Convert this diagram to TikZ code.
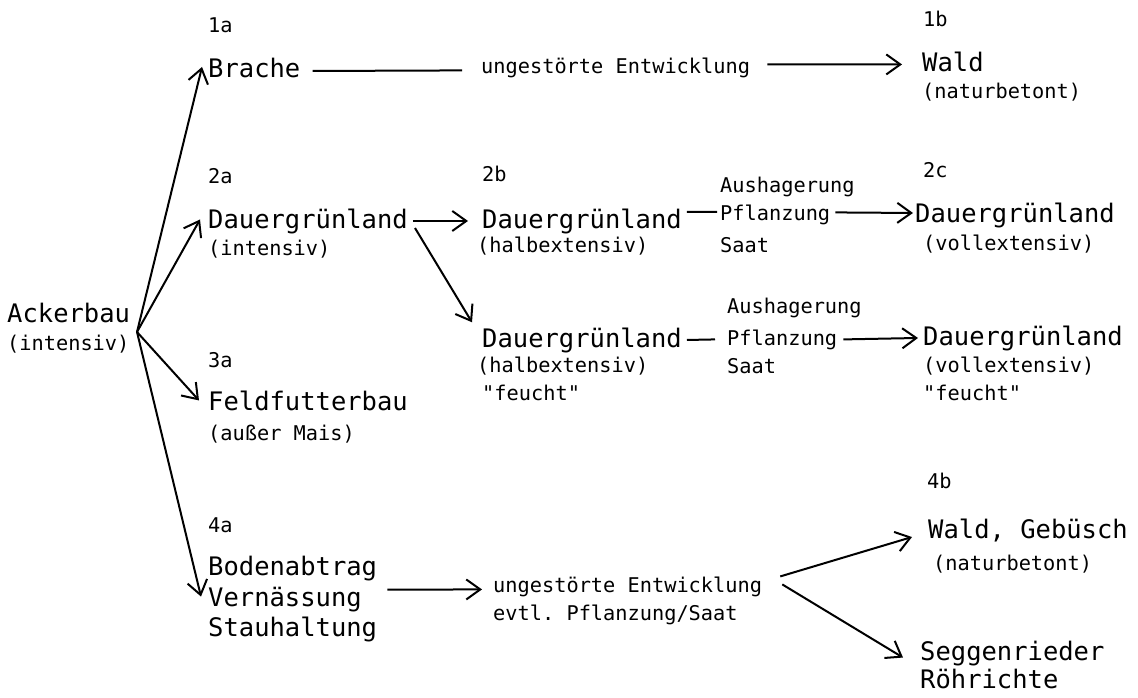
\documentclass[tikz,border=0pt]{standalone}
\usepackage{fontspec}
\setmonofont{DejaVu Sans Mono}
\usetikzlibrary{arrows.meta}

\newcommand{\grosstext}{\fontsize{25.5}{30}\selectfont\ttfamily}
\newcommand{\kleintext}{\fontsize{20.3}{24}\selectfont\ttfamily}

\begin{document}
\begin{tikzpicture}[x=1pt, y=-1pt,
  gross/.style={font=\grosstext, inner sep=0pt, anchor=base west},
  klein/.style={font=\kleintext, inner sep=0pt, anchor=base west},
  pfeil/.style={line width=2, -{Straight Barb[length=14pt, width=20pt]}}]

  \useasboundingbox (0, 0) rectangle (1138, 698);

  \node[gross] (acker) at (7, 322) {Ackerbau};
  \node[klein] (acker-sub) at (7, 350) {(intensiv)};
  \coordinate (fan) at (137, 332);

  % 1: Brache
  \node[klein] (n1a) at (208, 33) {1a};
  \node[gross] (brache) at (208, 78) {Brache};
  \node[klein] (ent1) at (481, 74) {ungestörte Entwicklung};
  \node[klein] (n1b) at (923, 27) {1b};
  \node[gross] (wald) at (922, 72) {Wald};
  \node[klein] (wald-sub) at (922, 99) {(naturbetont)};

  % 2: Dauergruenland
  \node[klein] (n2a) at (208, 183) {2a};
  \node[gross] (dauer2a) at (208, 228) {Dauergrünland};
  \node[klein] (dauer2a-sub) at (208, 255) {(intensiv)};
  \node[klein] (n2b) at (482, 182) {2b};
  \node[gross] (dauer2b) at (482, 228) {Dauergrünland};
  \node[klein] (dauer2b-sub) at (477, 252) {(halbextensiv)};
  \node[klein] (aush1) at (720, 193) {Aushagerung};
  \node[klein] (pflz1) at (720, 220) {Pflanzung};
  \node[klein] (saat1) at (720, 252) {Saat};
  \node[klein] (n2c) at (923, 178) {2c};
  \node[gross] (dauer2c) at (915, 222) {Dauergrünland};
  \node[klein] (dauer2c-sub) at (923, 250) {(vollextensiv)};

  \node[gross] (dauer3b) at (482, 347) {Dauergrünland};
  \node[klein] (dauer3b-sub) at (477, 372) {(halbextensiv)};
  \node[klein] (dauer3b-f) at (482, 400) {"feucht"};
  \node[klein] (aush2) at (727, 313) {Aushagerung};
  \node[klein] (pflz2) at (727, 345) {Pflanzung};
  \node[klein] (saat2) at (727, 373) {Saat};
  \node[gross] (dauer3c) at (923, 345) {Dauergrünland};
  \node[klein] (dauer3c-sub) at (923, 372) {(vollextensiv)};
  \node[klein] (dauer3c-f) at (923, 400) {"feucht"};

  % 3: Feldfutterbau
  \node[klein] (n3a) at (208, 367) {3a};
  \node[gross] (feld) at (208, 410) {Feldfutterbau};
  \node[klein] (feld-sub) at (208, 440) {(außer Mais)};

  % 4: Bodenabtrag
  \node[klein] (n4a) at (208, 532) {4a};
  \node[gross] (boden) at (208, 575) {Bodenabtrag};
  \node[gross] (vern) at (208, 606) {Vernässung};
  \node[gross] (stau) at (208, 636) {Stauhaltung};
  \node[klein] (ent2) at (493, 592) {ungestörte Entwicklung};
  \node[klein] (evtl) at (493, 620) {evtl. Pflanzung/Saat};
  \node[klein] (n4b) at (927, 488) {4b};
  \node[gross] (wg) at (928, 538) {Wald, Gebüsch};
  \node[klein] (wg-sub) at (933, 570) {(naturbetont)};
  \node[gross] (segg) at (920, 660) {Seggenrieder};
  \node[gross] (roehr) at (920, 688) {Röhrichte};

  % the fan out of Ackerbau
  \draw[pfeil] (fan) -- ([shift={(-6pt,1.5pt)}]brache.west);
  \draw[pfeil] (fan) -- ([shift={(-8pt,1.5pt)}]dauer2a.west);
  \draw[pfeil] (fan) -- ([xshift=-9pt]feld.west);
  \draw[pfeil] (fan) -- ([shift={(-7pt,2.5pt)}]vern.west);

  \draw[line width=2]
  ([shift={(12pt,-2.5pt)}]brache.east) -- ([shift={(-19pt,-2pt)}]ent1.west);
  \draw[pfeil]
  ([shift={(17pt,4pt)}]ent1.east) -- ([shift={(-20pt,-2pt)}]wald.west);

  \draw[pfeil] ([xshift=5pt]dauer2a.east) -- ([xshift=-14pt]dauer2b.west);
  \draw[pfeil]
  ([shift={(7pt,-7pt)}]dauer2a.east) -- ([shift={(-10pt,5pt)}]dauer3b.north west);
  \draw[line width=2]
  ([shift={(5pt,9pt)}]dauer2b.east) -- ([shift={(-3pt,2.5pt)}]pflz1.west);
  \draw[pfeil]
  ([shift={(5pt,2pt)}]pflz1.east) -- ([shift={(-2pt,2pt)}]dauer2c.west);
  \draw[line width=2] ([xshift=5pt]dauer3b.east) -- ([xshift=-12pt]pflz2.west);
  \draw[pfeil] ([xshift=6pt]pflz2.east) -- ([xshift=-5pt]dauer3c.west);

  \draw[pfeil]
  ([shift={(10pt,-9pt)}]boden.south east) -- ([shift={(-11pt,-3pt)}]ent2.west);
  \draw[pfeil]
  ([shift={(18pt,10pt)}]ent2.east) -- ([shift={(-16pt,-7pt)}]wg.west);
  \draw[pfeil]
  ([shift={(20pt,2pt)}]ent2.east) -- ([shift={(-17pt,-4.5pt)}]segg.west);

\end{tikzpicture}
\end{document}
